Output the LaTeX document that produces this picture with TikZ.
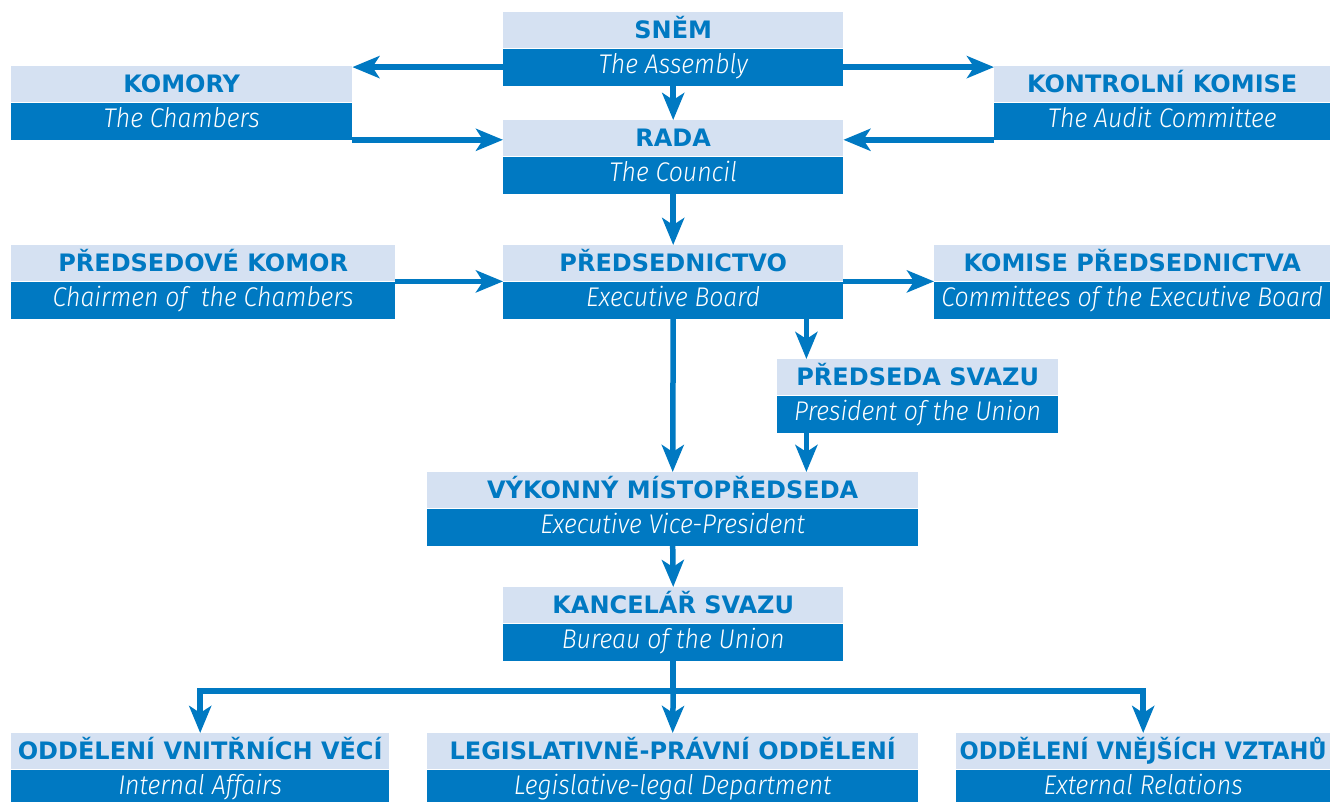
\documentclass[tikz,border=0pt]{standalone}
\usepackage{fontspec}
\setmainfont{Fira Sans}
\newfontfamily\hfont{DejaVu Sans}
\newfontfamily\hfontc[FakeStretch=0.94]{DejaVu Sans}
\IfFontExistsTF{Fira Sans Light Italic}
  {\newfontfamily\ifont[FakeStretch=0.92]{Fira Sans Light Italic}}
  {\IfFontExistsTF{Lato Light Italic}
     {\newfontfamily\ifont[FakeStretch=0.92]{Lato Light Italic}}
     {\newfontfamily\ifont[FakeStretch=0.92]{Fira Sans Italic}}}
\usetikzlibrary{arrows.meta,calc}
\definecolor{darkb}{RGB}{0,121,194}
\definecolor{lightb}{RGB}{213,225,242}
\tikzset{
  hd/.style={fill=lightb, text=darkb, font=\hfont\bfseries\fontsize{24}{24}\selectfont,
    inner sep=0pt, minimum height=36pt, text height=17.5pt, text depth=1pt, anchor=north west},
  hdc/.style={hd, font=\hfontc\bfseries\fontsize{24}{24}\selectfont},
  sb/.style={fill=darkb, text=white, font=\ifont\fontsize{27}{27}\selectfont,
    inner sep=0pt, minimum height=37pt, text height=19pt, text depth=6pt, anchor=north},
  arr/.style={draw=darkb, line width=5.5pt, -{Stealth[length=27pt,width=22pt,inset=7pt]}}
}
\newcommand\orgbox[7][hd]{%
  \node[#1, minimum width={#4-#3}] (#2) at (#3,#5) {#6};
  \node[sb, minimum width={#4-#3}] (#2-b) at (#2.south) {#7};}
\begin{document}
\begin{tikzpicture}[x=1pt,y=-1pt]
\useasboundingbox (0,0) rectangle (1330,801);
\orgbox{snem}{503}{843}{12}{SNĚM}{The Assembly}
\orgbox{komory}{11}{352}{66}{KOMORY}{The Chambers}
\orgbox{kontrol}{994}{1330}{66}{KONTROLNÍ KOMISE}{The Audit Committee}
\orgbox{rada}{503}{843}{120}{RADA}{The Council}
\orgbox{predkom}{11}{395}{245}{PŘEDSEDOVÉ KOMOR}{Chairmen of \ the Chambers}
\orgbox{pred}{503}{843}{245}{PŘEDSEDNICTVO}{Executive Board}
\orgbox{komise}{934}{1330}{245}{KOMISE PŘEDSEDNICTVA}{Committees of the Executive Board}
\orgbox{predseda}{777}{1058}{359}{PŘEDSEDA SVAZU}{President of the Union}
\orgbox{vyk}{427}{918}{472}{VÝKONNÝ MÍSTOPŘEDSEDA}{Executive Vice-President}
\orgbox{kanc}{503}{843}{587}{KANCELÁŘ SVAZU}{Bureau of the Union}
\orgbox{odd1}{11}{389}{733}{ODDĚLENÍ VNITŘNÍCH VĚCÍ}{Internal Affairs}
\orgbox{legis}{427}{918}{733}{LEGISLATIVNĚ-PRÁVNÍ ODDĚLENÍ}{Legislative-legal Department}
\orgbox[hdc]{odd3}{956}{1330}{733}{ODDĚLENÍ VNĚJŠÍCH VZTAHŮ}{External Relations}
% connectors
\draw[arr] (snem-b.west) -- (snem-b.west -| komory.north east);
\draw[arr] (komory-b.south east) -- (komory-b.south east -| rada.west);
\draw[arr] (snem-b.east) -- (snem-b.east -| kontrol.north west);
\draw[arr] (kontrol-b.south west) -- (kontrol-b.south west -| rada.east);
\draw[arr] (snem-b.south) -- (rada.north);
\draw[arr] (rada-b.south) -- (pred.north);
\draw[arr] (predkom.south east) -- (pred.south west);
\draw[arr] (pred.south east) -- (komise.south west);
\draw[arr] (pred-b.south) -- (vyk.north);
\coordinate (psx) at ([xshift=-37pt]pred-b.south east);
\draw[arr] (psx) -- (psx |- predseda.north);
\draw[arr] (psx |- predseda-b.south) -- (psx |- vyk.north);
\draw[arr] (vyk-b.south) -- (kanc.north);
\coordinate (j) at ([yshift=-30pt]kanc-b.south);
\draw[arr] (kanc-b.south) -- (j) -| (odd1.north);
\draw[arr] (j) -| (odd3.north);
\draw[arr] (j) -- (legis.north);
\end{tikzpicture}
\end{document}
